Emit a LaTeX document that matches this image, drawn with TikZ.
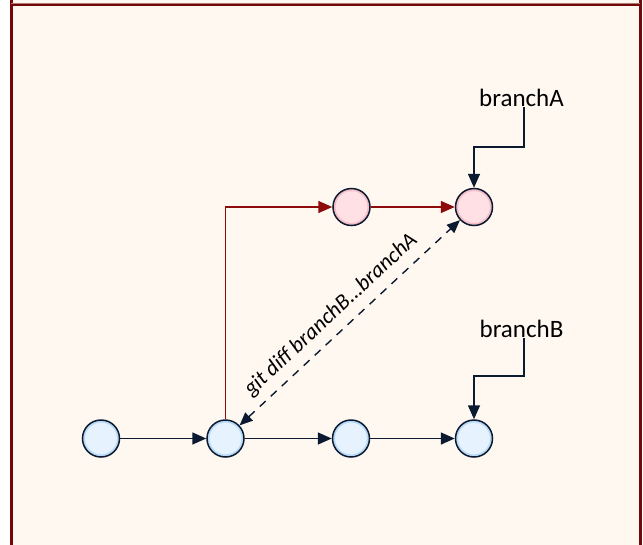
\documentclass[tikz,border=0pt]{standalone}
\usepackage{fontspec}
\setmainfont{Carlito}
\usetikzlibrary{arrows.meta}
\definecolor{bgcream}{HTML}{FFF8F1}
\definecolor{framered}{HTML}{740707}
\definecolor{navy}{HTML}{0B1A30}
\definecolor{bluefill}{HTML}{E6F3FE}
\definecolor{bluering}{HTML}{B9DBF7}
\definecolor{pinkfill}{HTML}{FFE0E4}
\definecolor{pinkring}{HTML}{F5BEC6}
\definecolor{redline}{HTML}{8E0B0B}
\tikzset{
  commit/.style={circle, minimum size=37pt, inner sep=0pt, draw=navy, line width=1.5pt},
  bluecommit/.style={commit, fill=bluefill, path picture={\draw[bluering, line width=2.5pt] (path picture bounding box.center) circle (17.2pt);}},
  pinkcommit/.style={commit, fill=pinkfill, path picture={\draw[pinkring, line width=2.5pt] (path picture bounding box.center) circle (17.2pt);}},
  navyarrow/.style={draw=navy, line width=1.6pt, -{Triangle[length=14pt,width=12pt]}},
  redarrow/.style={draw=redline, line width=1.5pt, -{Triangle[length=14pt,width=12pt]}},
  diffarrow/.style={draw=navy, line width=1.4pt, dash pattern=on 8pt off 7pt, {Triangle[length=13pt,width=11pt]}-{Triangle[length=13pt,width=11pt]}},
  branchlabel/.style={font=\fontsize{25}{30}\selectfont, inner sep=1pt, text=black},
}
\begin{document}
\begin{tikzpicture}[x=1pt,y=-1pt]
\useasboundingbox (0,0) rectangle (643,544);
\fill[white] (0,0) rectangle (643,544);
\draw[framered, line width=3pt, fill=bgcream] (11,-20) rectangle (640,570);
\draw[framered!55, line width=1pt] (11,3) -- (640,3);
\draw[framered, line width=2pt] (11,5) -- (640,5);
% commits
\node[bluecommit] (c1) at (101,438.5) {};
\node[bluecommit] (c2) at (225.5,438.5) {};
\node[bluecommit] (c3) at (351,438.5) {};
\node[bluecommit] (c4) at (474,438.5) {};
\node[pinkcommit] (p1) at (351.5,207) {};
\node[pinkcommit] (p2) at (474,207) {};
% branch labels
\node[branchlabel, anchor=base] (lblA) at (521.5,106) {branchA};
\node[branchlabel, anchor=base] (lblB) at (521.5,337) {branchB};
% main line
\draw[navyarrow] (c1) -- (c2);
\draw[navyarrow] (c2) -- (c3);
\draw[navyarrow] (c3) -- (c4);
% branch line
\coordinate (bend) at (225.5,207);
\draw[redarrow] (c2.north) -- (bend) -- (p1);
\draw[redarrow] (p1) -- (p2);
% branch pointers
\coordinate (kA) at (524,147);
\coordinate (kB) at (524,376);
\draw[navyarrow] (lblA.south -| kA) -- (kA) -| (p2.north);
\draw[navyarrow] (lblB.south -| kB) -- (kB) -| (c4.north);
% diff
\draw[diffarrow] (c2) -- (p2);
\node[font=\fontsize{22}{26}\selectfont\itshape, rotate=43, inner sep=1pt] (difflbl) at (331,315) {git diff branchB...branchA};
\end{tikzpicture}
\end{document}
